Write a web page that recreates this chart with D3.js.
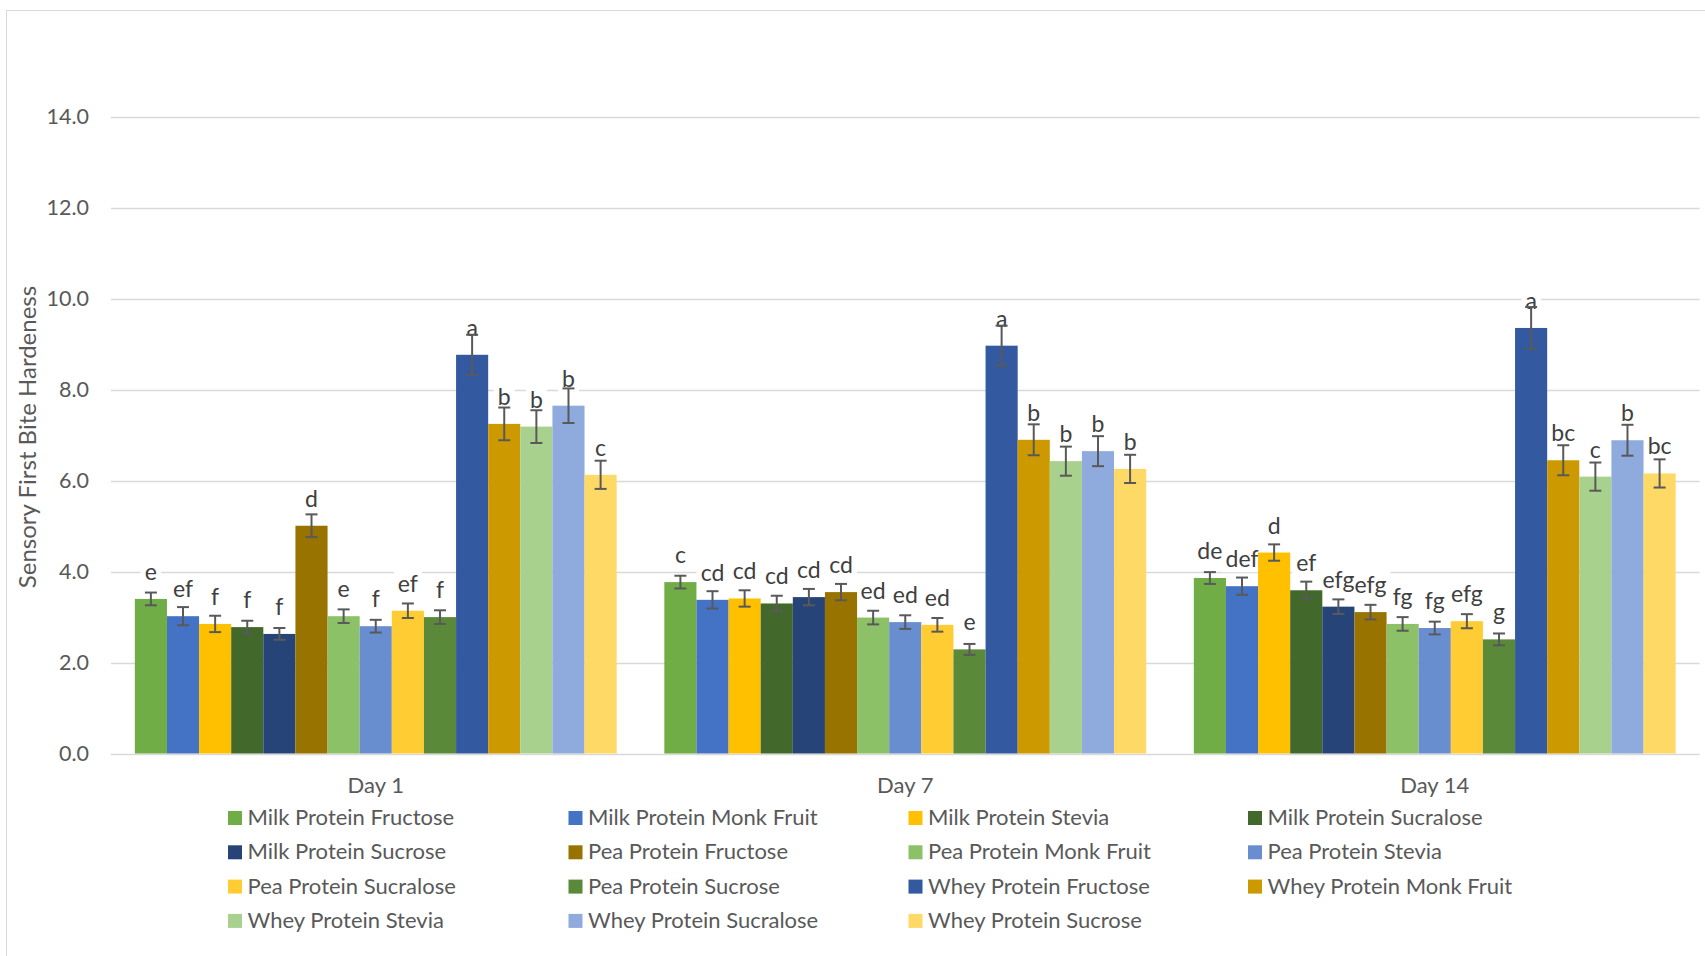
<!DOCTYPE html>
<html>
<head>
<meta charset="utf-8">
<script src="https://cdn.jsdelivr.net/npm/d3@7"></script>
<style>
  html, body { margin: 0; padding: 0; background: #ffffff; }
  svg { display: block; }
  text { font-family: Lato, "Open Sans", sans-serif; }
</style>
</head>
<body>
<svg id="chart" width="1705" height="956"></svg>
<script>
// Storage days on the x axis
const days = ["Day 1", "Day 7", "Day 14"];

// Formulations (protein × sweetener)
const series = [
  "Milk Protein Fructose", "Milk Protein Monk Fruit", "Milk Protein Stevia",
  "Milk Protein Sucralose", "Milk Protein Sucrose", "Pea Protein Fructose",
  "Pea Protein Monk Fruit", "Pea Protein Stevia", "Pea Protein Sucralose",
  "Pea Protein Sucrose", "Whey Protein Fructose", "Whey Protein Monk Fruit",
  "Whey Protein Stevia", "Whey Protein Sucralose", "Whey Protein Sucrose"
];

const colors = [
  "#70AD47", "#4472C4", "#FFC000",
  "#43682B", "#264478", "#997300",
  "#8CC168", "#698ED0", "#FFCD33",
  "#5A8A39", "#335AA1", "#CC9A00",
  "#A9D18E", "#8FAADC", "#FFD966"
];

// Mean first-bite hardness per formulation
const day1Values  = [3.40, 3.02, 2.85, 2.78, 2.63, 5.01, 3.02, 2.80, 3.14, 3.00, 8.77, 7.25, 7.19, 7.65, 6.13];
const day7Values  = [3.77, 3.38, 3.41, 3.30, 3.44, 3.55, 2.99, 2.89, 2.83, 2.29, 8.97, 6.90, 6.43, 6.65, 6.26];
const day14Values = [3.86, 3.68, 4.42, 3.59, 3.23, 3.11, 2.85, 2.76, 2.91, 2.51, 9.36, 6.45, 6.09, 6.89, 6.16];

// Standard errors
const day1Errors  = [0.14, 0.20, 0.18, 0.14, 0.13, 0.25, 0.15, 0.14, 0.16, 0.15, 0.44, 0.36, 0.36, 0.38, 0.31];
const day7Errors  = [0.14, 0.19, 0.18, 0.17, 0.18, 0.18, 0.15, 0.15, 0.15, 0.12, 0.44, 0.34, 0.32, 0.33, 0.31];
const day14Errors = [0.13, 0.19, 0.18, 0.19, 0.16, 0.16, 0.15, 0.14, 0.155, 0.13, 0.46, 0.33, 0.31, 0.34, 0.31];

// Significance groupings
const day1Letters  = ["e", "ef", "f", "f", "f", "d", "e", "f", "ef", "f", "a", "b", "b", "b", "c"];
const day7Letters  = ["c", "cd", "cd", "cd", "cd", "cd", "ed", "ed", "ed", "e", "a", "b", "b", "b", "b"];
const day14Letters = ["de", "def", "d", "ef", "efg", "efg", "fg", "fg", "efg", "g", "a", "bc", "c", "b", "bc"];

const yTicks = [0, 2, 4, 6, 8, 10, 12, 14];
const yTitle = "Sensory First Bite Hardeness";

const valuesByDay  = [day1Values, day7Values, day14Values];
const errorsByDay  = [day1Errors, day7Errors, day14Errors];
const lettersByDay = [day1Letters, day7Letters, day14Letters];

const rows = [];
days.forEach((d, di) => {
  series.forEach((s, si) => {
    rows.push({
      day: d, series: s, color: colors[si],
      value: valuesByDay[di][si],
      error: errorsByDay[di][si],
      letter: lettersByDay[di][si]
    });
  });
});

const svg = d3.select("#chart");
const W = 1705, H = 956;

// chart area outline
svg.append("rect")
  .attr("x", 6.5).attr("y", 10.5)
  .attr("width", W + 20).attr("height", H + 20)
  .attr("fill", "#ffffff")
  .attr("stroke", "#d9d9d9").attr("stroke-width", 1);

const plotLeft = 111, plotRight = 1699.5;

const x0 = d3.scaleBand()
  .domain(days)
  .range([plotLeft, plotRight])
  .paddingInner(0.09)
  .paddingOuter(0.045);

const x1 = d3.scaleBand()
  .domain(series)
  .range([0, x0.bandwidth()])
  .padding(0);

const y = d3.scaleLinear()
  .domain([0, 14])
  .range([753.5, 117]);

// gridlines
const grid = svg.append("g").attr("class", "grid");
grid.selectAll("line")
  .data(yTicks)
  .join("line")
  .attr("x1", plotLeft).attr("x2", plotRight)
  .attr("y1", d => Math.round(y(d)) + 0.5)
  .attr("y2", d => Math.round(y(d)) + 0.5)
  .attr("stroke", "#d9d9d9")
  .attr("stroke-width", 1.5);

// y axis tick labels
const yAxis = d3.axisLeft(y)
  .tickValues(yTicks)
  .tickFormat(d3.format(".1f"))
  .tickSize(0)
  .tickPadding(0);

const yAxisG = svg.append("g")
  .attr("transform", "translate(89,0)")
  .call(yAxis);
yAxisG.select(".domain").remove();
yAxisG.selectAll("text")
  .attr("font-family", "Lato, 'Open Sans', sans-serif")
  .attr("font-size", 21.5)
  .attr("fill", "#595959");

// y axis title
svg.append("text")
  .attr("transform", "translate(36,437) rotate(-90)")
  .attr("text-anchor", "middle")
  .attr("font-size", 24)
  .attr("fill", "#595959")
  .text(yTitle);

// x axis category labels
const xAxis = d3.axisBottom(x0).tickSize(0).tickPadding(0);
const xAxisG = svg.append("g")
  .attr("transform", "translate(0,777)")
  .call(xAxis);
xAxisG.select(".domain").remove();
xAxisG.selectAll("text")
  .attr("font-family", "Lato, 'Open Sans', sans-serif")
  .attr("font-size", 22)
  .attr("fill", "#595959");

const barX = d => x0(d.day) + x1(d.series);
const barCx = d => barX(d) + x1.bandwidth() / 2;
const labelOffset = 19;

// significance letters (measured once to size their white backgrounds)
const labelG = svg.append("g").attr("class", "labels");
const labelBg = labelG.append("g");
const labelTxt = labelG.append("g");

const texts = labelTxt.selectAll("text")
  .data(rows)
  .join("text")
  .attr("x", barCx)
  .attr("y", d => y(d.value) - labelOffset)
  .attr("text-anchor", "middle")
  .attr("font-size", 23)
  .attr("fill", "#404040")
  .text(d => d.letter);

texts.each(function (d) {
  const bb = this.getBBox();
  labelBg.append("rect")
    .attr("x", bb.x - 4).attr("y", bb.y)
    .attr("width", bb.width + 8).attr("height", bb.height)
    .attr("fill", "#ffffff");
});

// bars
svg.append("g").attr("class", "bars")
  .selectAll("rect")
  .data(rows)
  .join("rect")
  .attr("x", barX)
  .attr("y", d => y(d.value))
  .attr("width", x1.bandwidth())
  .attr("height", d => y(0) - y(d.value))
  .attr("fill", d => d.color);

// error bars
const capHalf = 6;
const eb = svg.append("g").attr("class", "errorbars")
  .attr("stroke", "#595959").attr("stroke-width", 2);
eb.selectAll("line.v")
  .data(rows).join("line").attr("class", "v")
  .attr("x1", barCx).attr("x2", barCx)
  .attr("y1", d => y(d.value + d.error))
  .attr("y2", d => y(d.value - d.error));
eb.selectAll("line.t")
  .data(rows).join("line").attr("class", "t")
  .attr("x1", d => barCx(d) - capHalf).attr("x2", d => barCx(d) + capHalf)
  .attr("y1", d => y(d.value + d.error))
  .attr("y2", d => y(d.value + d.error));
eb.selectAll("line.b")
  .data(rows).join("line").attr("class", "b")
  .attr("x1", d => barCx(d) - capHalf).attr("x2", d => barCx(d) + capHalf)
  .attr("y1", d => y(d.value - d.error))
  .attr("y2", d => y(d.value - d.error));

// stacking: label backgrounds, bars, error bars, letters
labelG.raise();
svg.select("g.bars").raise();
eb.raise();
labelTxt.raise();

// legend: 4 columns, row-major
const legend = svg.append("g").attr("class", "legend");
const colX = [228, 568.5, 908.5, 1248];
const rowBase = 825, rowGap = 34.3;
series.forEach((s, i) => {
  const cx = colX[i % 4];
  const by = rowBase + Math.floor(i / 4) * rowGap;
  legend.append("rect")
    .attr("x", cx).attr("y", by - 14)
    .attr("width", 14).attr("height", 14)
    .attr("fill", colors[i]);
  legend.append("text")
    .attr("x", cx + 19.5).attr("y", by)
    .attr("font-size", 22)
    .attr("fill", "#595959")
    .text(s);
});
</script>
</body>
</html>
